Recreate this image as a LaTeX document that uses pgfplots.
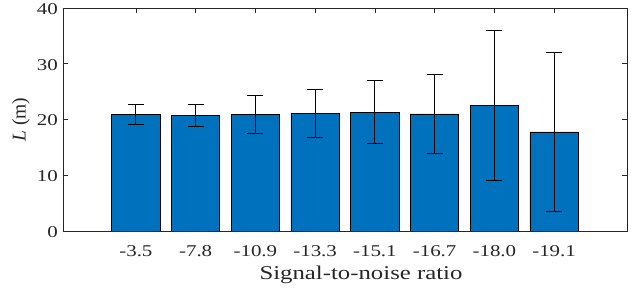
\documentclass[border=0pt]{standalone}
\usepackage{pgfplots}
\pgfplotsset{compat=1.18}
\usepackage{fontspec}
\setmainfont{Liberation Serif}
\newfontfamily\wf[FakeStretch=1.27]{Liberation Serif}
\definecolor{mblue}{RGB}{0,114,189}
\definecolor{axgray}{RGB}{38,38,38}
\begin{document}
\begin{tikzpicture}
\begin{axis}[
  name=ax,
  scale only axis,
  width=564pt, height=223pt,
  xmin=-0.22, xmax=9.22,
  ymin=0, ymax=40,
  ytick={0,10,20,30,40},
  xtick={1,2,3,4,5,6,7,8},
  xticklabels={{-3.5},{-7.8},{-10.9},{-13.3},{-15.1},{-16.7},{-18.0},{-19.1}},
  tick align=inside,
  major tick length=5pt,
  tick style={axgray, line width=0.6pt},
  axis line style={axgray, line width=0.8pt},
  /pgf/number format/assume math mode=true,
  tick label style={font=\wf\fontsize{16.5}{19}\selectfont, text=axgray, inner sep=0pt},
  xticklabel style={yshift=-14pt},
  yticklabel style={xshift=-5pt, yshift=-1pt},
  xlabel style={font=\wf\fontsize{19.5}{23}\selectfont, text=axgray, inner sep=0pt,
    at={(axis description cs:0.5,0)}, anchor=north, yshift=-35pt, xshift=16pt},
  ylabel style={font=\fontsize{19.5}{23}\selectfont, text=axgray, inner sep=0pt,
    at={(axis description cs:-0.0585,0.5)}, anchor=south},
  xlabel={Signal-to-noise ratio},
  ylabel={\textit{L} (m)},
]
\addplot[ybar, bar width=0.81, fill=mblue, draw=black, line width=0.8pt,
  error bars/.cd, y dir=both, y explicit,
  error mark=|,
  error bar style={black, line width=0.8pt},
  error mark options={black, mark size=8pt, line width=0.8pt}]
  table[x=x, y=y, y error=e] {
x y e
1 20.86 1.82
2 20.75 1.92
3 20.9 3.4
4 21.1 4.3
5 21.3 5.65
6 21.0 7.0
7 22.5 13.45
8 17.76 14.27
};
\end{axis}
\path (ax.south west) ++(-63pt,-60pt) coordinate (bl);
\path (ax.north east) ++(17pt,8pt) coordinate (tr);
\end{tikzpicture}
\end{document}
